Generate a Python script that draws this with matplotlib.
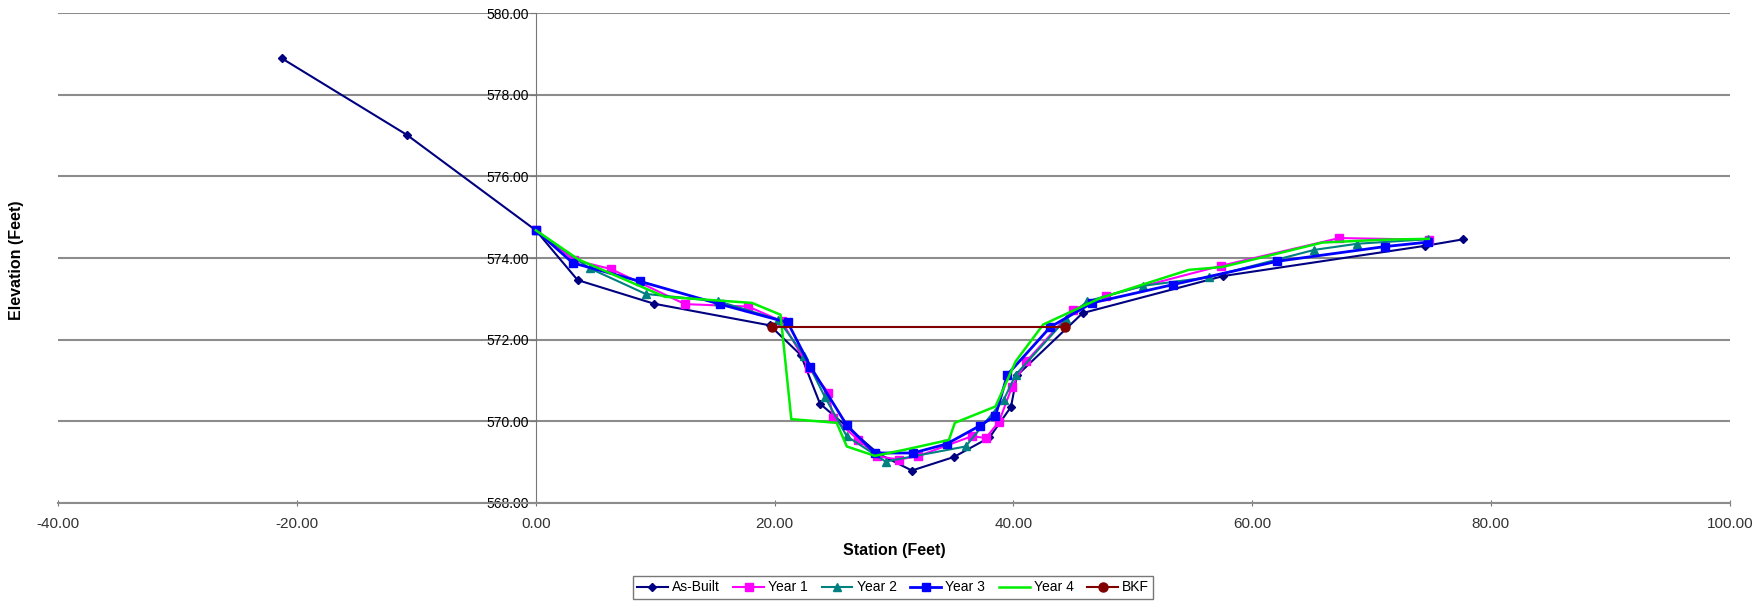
import matplotlib
matplotlib.use("Agg")
import matplotlib.pyplot as plt

plt.rcParams['font.family'] = ['Liberation Sans', 'DejaVu Sans']

# ------------- DATOS
asbuilt_x = [-21.3, -10.8, 0.0, 3.5, 9.9, 19.6, 22.2, 23.8, 28.7, 31.5, 35.0, 38.0, 39.8, 40.3, 45.8, 57.6, 74.5, 77.7]
asbuilt_y = [578.90, 577.02, 574.68, 573.46, 572.88, 572.35, 571.62, 570.43, 569.20, 568.79, 569.12, 569.60, 570.35,
             571.12, 572.65, 573.56, 574.30, 574.46]

year1_x = [0.0, 3.2, 6.3, 12.5, 17.8, 20.6, 22.9, 24.5, 24.9, 27.0, 28.6, 30.4, 32.0, 36.5, 37.7, 38.8, 39.9, 41.1,
           45.0, 47.8, 57.4, 67.3, 74.8]
year1_y = [574.68, 573.95, 573.73, 572.87, 572.81, 572.45, 571.30, 570.70, 570.08, 569.55, 569.14, 569.06, 569.14,
           569.63, 569.59, 569.99, 570.85, 571.47, 572.73, 573.08, 573.81, 574.49, 574.45]

year2_x = [0.0, 4.5, 9.2, 15.3, 20.3, 22.5, 24.2, 26.05, 29.3, 36.0, 39.2, 40.2, 44.4, 46.2, 50.9, 56.4, 65.2, 68.8, 74.7]
year2_y = [574.68, 573.75, 573.12, 572.94, 572.49, 571.60, 570.60, 569.63, 569.01, 569.38, 570.53, 571.14, 572.50,
           572.94, 573.32, 573.53, 574.20, 574.35, 574.46]

year3_x = [0.0, 3.1, 8.7, 15.4, 21.1, 23.0, 26.05, 28.4, 31.6, 34.4, 37.2, 38.5, 39.5, 43.1, 46.6, 53.4, 62.1, 71.1, 74.7]
year3_y = [574.68, 573.88, 573.43, 572.87, 572.42, 571.34, 569.90, 569.22, 569.22, 569.44, 569.89, 570.13, 571.14,
           572.31, 572.90, 573.35, 573.92, 574.28, 574.39]

year4_x = [0.0, 3.6, 10.8, 18.1, 20.5, 21.4, 25.2, 26.05, 28.4, 30.9, 34.6, 35.1, 38.5, 40.2, 42.5, 47.3, 54.7, 57.5,
           65.9, 71.0, 74.8]
year4_y = [574.68, 573.96, 573.05, 572.90, 572.61, 570.05, 569.96, 569.38, 569.15, 569.30, 569.54, 569.96, 570.36,
           571.47, 572.37, 573.02, 573.71, 573.78, 574.38, 574.45, 574.47]

bkf_x = [19.8, 44.3]
bkf_y = [572.30, 572.30]

x_ticks = [-40, -20, 0, 20, 40, 60, 80, 100]
y_ticks = [568, 570, 572, 574, 576, 578, 580]

# ------------- GRAFICA
fig = plt.figure(figsize=(17.65, 6.05), dpi=100)
ax = fig.add_axes([0.033, 0.169, 0.947, 0.809])

ax.plot(asbuilt_x, asbuilt_y, color='#000080', marker='D', markersize=4.5, lw=1.5, label='As-Built', zorder=3)
ax.plot(year1_x, year1_y, color='#FF00FF', marker='s', markersize=5.5, lw=1.5, label='Year 1', zorder=3)
ax.plot(year2_x, year2_y, color='#008080', marker='^', markersize=5.5, lw=1.5, label='Year 2', zorder=3)
ax.plot(year3_x, year3_y, color='#0000FF', marker='s', markersize=6, lw=2, label='Year 3', zorder=3)
ax.plot(year4_x, year4_y, color='#00EE00', lw=1.8, label='Year 4', zorder=4)
ax.plot(bkf_x, bkf_y, color='#800000', marker='o', markersize=6.5, lw=1.5, label='BKF', zorder=5)

ax.set_xlim(-40, 100)
ax.set_ylim(568, 580)
ax.set_xticks(x_ticks)
ax.set_yticks(y_ticks)
ax.set_xticklabels([f'{v:.2f}' for v in x_ticks], fontsize=11, color='#333333')
ax.set_yticklabels([f'{v:.2f}' for v in y_ticks], fontsize=11, color='#333333')

ax.grid(axis='y', color='#8c8c8c', lw=1.5)
ax.set_axisbelow(True)
for s in ['top', 'right']:
    ax.spines[s].set_visible(False)
ax.spines['left'].set_position(('data', 0))
ax.spines['left'].set_color('#777777')
ax.spines['bottom'].set_color('#8c8c8c')
ax.spines['bottom'].set_linewidth(1.5)
ax.tick_params(axis='x', length=4, color='#777777', pad=8, direction='inout')
ax.tick_params(axis='y', length=4, color='#777777', pad=1)

ax.set_xlabel('Station (Feet)', fontsize=11.5, fontweight='bold', labelpad=9)
fig.text(0.0096, 0.57, 'Elevation (Feet)', rotation=90, fontsize=11.5, fontweight='bold', ha='center', va='center')

ax.legend(loc='center', bbox_to_anchor=(0.506, 0.029), bbox_transform=fig.transFigure, ncol=6, fontsize=10,
          frameon=True, fancybox=False, edgecolor='#555555', handlelength=2.2, columnspacing=1.0,
          handletextpad=0.3, borderpad=0.3)

plt.savefig('out.png', dpi=100)
